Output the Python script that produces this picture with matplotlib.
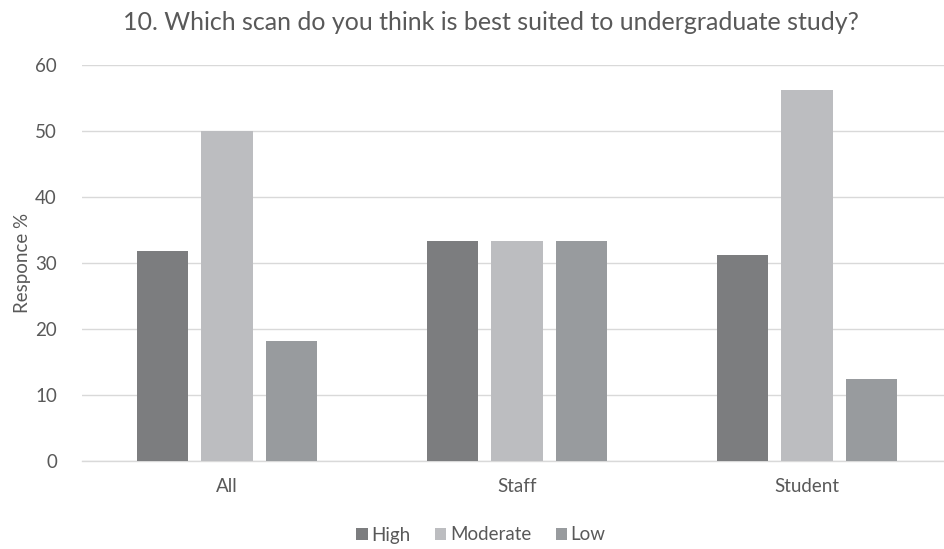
import numpy as np
import matplotlib.pyplot as plt

plt.rcParams['font.family'] = ['Lato', 'DejaVu Sans']

groups = ['All', 'Staff', 'Student']
series = ['High', 'Moderate', 'Low']
high = [31.8, 33.3, 31.25]
moderate = [50.0, 33.3, 56.25]
low = [18.2, 33.3, 12.5]
colors = ['#7c7d7f', '#bcbdc0', '#989b9e']

fig = plt.figure(figsize=(9.44, 5.49), dpi=100)
ax = fig.add_axes([82/944, 88/549, 870/944, 396/549])

x = np.arange(len(groups))
w = 0.176
step = 0.222
for i, (vals, name) in enumerate(zip([high, moderate, low], series)):
    ax.bar(x + (i - 1) * step, vals, w, color=colors[i], label=name, zorder=3)

ax.set_xlim(-0.5, 2.5)
ax.set_ylim(0, 60)
ax.set_yticks(range(0, 61, 10))
ax.set_xticks(x)
ax.set_xticklabels(groups)
ax.grid(axis='y', color='#d9d9d9', linewidth=1, zorder=0)
for s in ['top', 'right', 'left']:
    ax.spines[s].set_visible(False)
ax.spines['bottom'].set_color('#d9d9d9')
ax.spines['bottom'].set_linewidth(1)
ax.tick_params(length=0, colors='#595959', labelsize=13.5)
ax.tick_params(axis='x', pad=12)
ax.tick_params(axis='y', pad=18)
ax.set_ylabel('Responce %', color='#595959', fontsize=13.5, labelpad=3)

fig.text(491/944, 1 - 23/549, '10. Which scan do you think is best suited to undergraduate study?',
         ha='center', va='center', color='#595959', fontsize=18)

fig.legend(loc='center', bbox_to_anchor=(481/944, 1 - 535/549), ncol=3, frameon=False,
           fontsize=13.5, labelcolor='#595959', handlelength=0.6, handleheight=0.6,
           handletextpad=0.2, columnspacing=1.3)

fig.savefig('out.png', dpi=100)
